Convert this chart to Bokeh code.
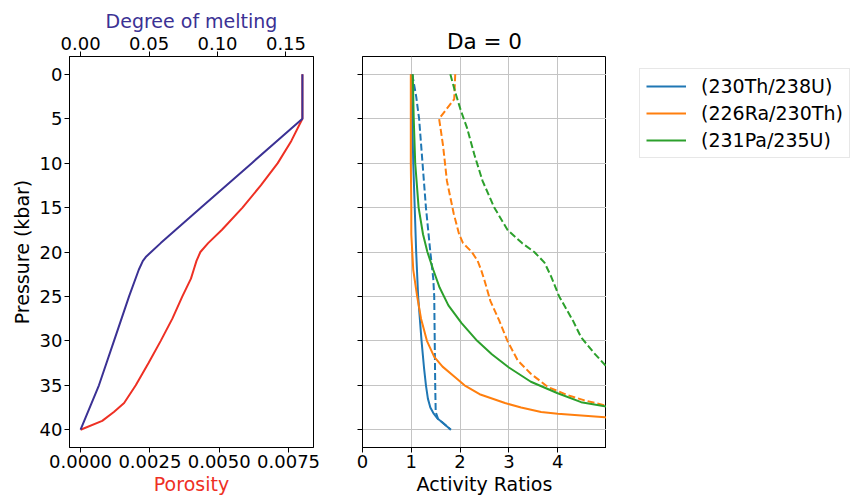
from bokeh.plotting import figure
from bokeh.models import (Range1d, LinearAxis, FixedTicker, PrintfTickFormatter, Legend, LegendItem,
                          CustomJSTickFormatter)
from bokeh.layouts import row
from bokeh.embed import file_html
from bokeh.resources import INLINE

FONT = "DejaVu Sans"

# ---- left panel data ----
pressure_melt = [0, 5, 10, 15, 19, 20, 20.5, 21, 22, 25, 30, 35, 40]
degree_melting = [0.162, 0.162, 0.125, 0.088, 0.0585, 0.0515, 0.048, 0.0455, 0.0425, 0.0354, 0.0244, 0.0134, 0.0]
pressure_por = [0, 5, 7.5, 10, 12.5, 15, 17.5, 19, 20, 21, 22, 23, 25, 27.5, 30, 32.5, 35, 37, 38, 39, 40]
porosity = [0.0080, 0.0080, 0.00760, 0.00711, 0.00650, 0.00584, 0.00510, 0.00460, 0.00432, 0.00418,
            0.00408, 0.00398, 0.00367, 0.00331, 0.00289, 0.00245, 0.00199, 0.00157, 0.00120, 0.00078, 0.0]

# ---- right panel data ----
th_p = [0, 5, 10, 15, 20, 25, 30, 33, 35, 36.5, 37.5, 38.2, 38.7, 39.1, 40]
th_solid = [1.0, 1.02, 1.04, 1.07, 1.10, 1.14, 1.21, 1.26, 1.30, 1.34, 1.39, 1.46, 1.53, 1.62, 1.81]
th_dash_p = [0, 2.5, 5, 10, 15, 20, 23, 25, 30, 35, 38, 38.8, 39.1, 40]
th_dash = [1.02, 1.10, 1.16, 1.23, 1.30, 1.39, 1.45, 1.47, 1.48, 1.49, 1.50, 1.55, 1.62, 1.81]

ra_p = [0, 5, 10, 15, 18, 20, 22, 25, 27.5, 30, 31.8, 32.9, 34, 35, 36, 37, 37.5, 38, 38.2, 38.6, 39]
ra_solid = [0.99, 0.99, 0.99, 1.0, 1.0, 1.02, 1.04, 1.12, 1.20, 1.32, 1.47, 1.64, 1.88, 2.09, 2.40,
            2.92, 3.25, 3.66, 4.0, 4.97, 5.6]
ra_dash_p = [0, 2.8, 5, 8, 12, 15.7, 18, 19, 20, 21, 22, 23.2, 25.5, 27.7, 30, 32.2, 33.7, 35.2, 36.1, 36.7, 37.3, 37.8]
ra_dash = [1.90, 1.88, 1.57, 1.65, 1.73, 1.87, 1.98, 2.06, 2.24, 2.36, 2.43, 2.50, 2.62, 2.80, 2.97,
           3.18, 3.45, 3.80, 4.20, 4.55, 5.0, 5.6]

pa_p = [0, 5, 10, 15, 18, 20, 22, 24, 26, 28, 30, 31.5, 33, 34.6, 35.9, 36.9, 37.4, 38]
pa_solid = [1.03, 1.05, 1.08, 1.15, 1.24, 1.33, 1.45, 1.58, 1.76, 2.03, 2.35, 2.65, 3.0, 3.45, 4.0, 4.48, 5.0, 5.6]
pa_dash_p = [0, 2, 4, 6, 9, 12, 15, 17.5, 19, 20, 21.2, 22.7, 25, 27.7, 29.6, 31.4, 32.9, 34]
pa_dash = [1.80, 1.90, 2.01, 2.14, 2.29, 2.46, 2.70, 2.97, 3.27, 3.52, 3.73, 3.86, 4.03, 4.31, 4.48, 4.75, 5.0, 5.25]

legend_labels = ["(230Th/238U)", "(226Ra/230Th)", "(231Pa/235U)"]
pressure_ticks = [0, 5, 10, 15, 20, 25, 30, 35, 40]
porosity_ticks = [0.0, 0.0025, 0.005, 0.0075]
melt_ticks = [0.0, 0.05, 0.10, 0.15]
activity_ticks = [0, 1, 2, 3, 4]

RED = "#ee3024"
PURPLE = "#3b3194"
BLUE, ORANGE, GREEN = "#1f77b4", "#ff7f0e", "#2ca02c"
TICK_FS = "18px"
LABEL_FS = "19px"


def style_axis(ax, label_color="black"):
    ax.major_label_text_font = FONT
    ax.major_label_text_font_size = TICK_FS
    ax.major_label_text_color = "black"
    ax.axis_label_text_font = FONT
    ax.axis_label_text_font_size = LABEL_FS
    ax.axis_label_text_font_style = "normal"
    ax.axis_label_text_color = label_color
    ax.major_tick_out = 5
    ax.major_tick_in = 0
    ax.minor_tick_out = 0
    ax.minor_tick_in = 0
    ax.axis_line_color = "black"
    ax.major_tick_line_color = "black"
    ax.major_label_standoff = 2
    ax.axis_label_standoff = 2


# ---------------- left panel ----------------
left = figure(width=340, height=499, output_backend="svg", toolbar_location=None,
              x_range=Range1d(-0.0004, 0.0084), y_range=Range1d(42, -2),
              min_border_left=69, min_border_right=27, min_border_top=56, min_border_bottom=52,
              x_axis_label="Porosity", y_axis_label="Pressure (kbar)")
left.extra_x_ranges = {"melt": Range1d(-0.0081, 0.1701)}
left.grid.visible = False
left.outline_line_color = "black"

bottom_ax = left.below[0]
bottom_ax.ticker = FixedTicker(ticks=porosity_ticks)
bottom_ax.formatter = PrintfTickFormatter(format="%.4f")
style_axis(bottom_ax, RED)

left.line(porosity, pressure_por, line_color=RED, line_width=2)
left.line(degree_melting, pressure_melt, line_color=PURPLE, line_width=2, x_range_name="melt")

top_ax = LinearAxis(x_range_name="melt", axis_label="Degree of melting")
top_ax.ticker = FixedTicker(ticks=melt_ticks)
top_ax.formatter = PrintfTickFormatter(format="%.2f")
style_axis(top_ax, PURPLE)
left.add_layout(top_ax, "above")

left_y = left.left[0]
left_y.ticker = FixedTicker(ticks=pressure_ticks)
style_axis(left_y)
left_y.axis_label_standoff = 4

# ---------------- right panel ----------------
right = figure(width=266, height=499, output_backend="svg", toolbar_location=None,
               x_range=Range1d(0, 5), y_range=Range1d(42, -2),
               min_border_left=22, min_border_right=0, min_border_top=56, min_border_bottom=52,
               x_axis_label="Activity Ratios", title="Da = 0")
right.outline_line_color = "black"
right.title.text_font = FONT
right.title.text_font_size = "21.5px"
right.title.text_font_style = "normal"
right.title.text_color = "black"
right.title.align = "center"
right.title.standoff = 6
rx = right.below[0]
rx.ticker = FixedTicker(ticks=activity_ticks)
style_axis(rx)
ry = right.left[0]
ry.ticker = FixedTicker(ticks=pressure_ticks)
style_axis(ry)
ry.formatter = CustomJSTickFormatter(code="return ''")
ry.major_label_standoff = 0
right.xgrid.ticker = FixedTicker(ticks=activity_ticks)
right.ygrid.ticker = FixedTicker(ticks=pressure_ticks)
right.grid.grid_line_color = "#c4c4c4"
right.grid.grid_line_width = 1

DASH = "7 3"
right.line(th_solid, th_p, line_color=BLUE, line_width=2)
right.line(th_dash, th_dash_p, line_color=BLUE, line_width=2, line_dash=DASH)
right.line(ra_solid, ra_p, line_color=ORANGE, line_width=2)
right.line(ra_dash, ra_dash_p, line_color=ORANGE, line_width=2, line_dash=DASH)
right.line(pa_solid, pa_p, line_color=GREEN, line_width=2)
right.line(pa_dash, pa_dash_p, line_color=GREEN, line_width=2, line_dash=DASH)

# ---------------- legend panel ----------------
leg = figure(width=246, height=499, output_backend="svg", toolbar_location=None,
             x_range=Range1d(0, 1), y_range=Range1d(0, 1),
             x_axis_location=None, y_axis_location=None,
             min_border_left=0, min_border_right=0, min_border_top=0, min_border_bottom=0)
leg.grid.visible = False
leg.outline_line_color = None
hidden = [-10, -9]
l_th = leg.line(hidden, hidden, line_color=BLUE, line_width=2)
l_ra = leg.line(hidden, hidden, line_color=ORANGE, line_width=2)
l_pa = leg.line(hidden, hidden, line_color=GREEN, line_width=2)

legend = Legend(items=[LegendItem(label=legend_labels[0], renderers=[l_th]),
                       LegendItem(label=legend_labels[1], renderers=[l_ra]),
                       LegendItem(label=legend_labels[2], renderers=[l_pa])],
                location=(33, 289))
legend.label_text_font = FONT
legend.label_text_font_size = "19px"
legend.label_text_color = "black"
legend.glyph_width = 40
legend.glyph_height = 20
legend.label_height = 20
legend.label_standoff = 15
legend.spacing = 5
legend.padding = 6
legend.margin = 0
legend.border_line_color = "#d0d0d0"
legend.border_line_width = 1
legend.background_fill_alpha = 1.0
leg.add_layout(legend, "center")

layout = row(left, right, leg)
open("out.html", "w").write(file_html(layout, INLINE))
